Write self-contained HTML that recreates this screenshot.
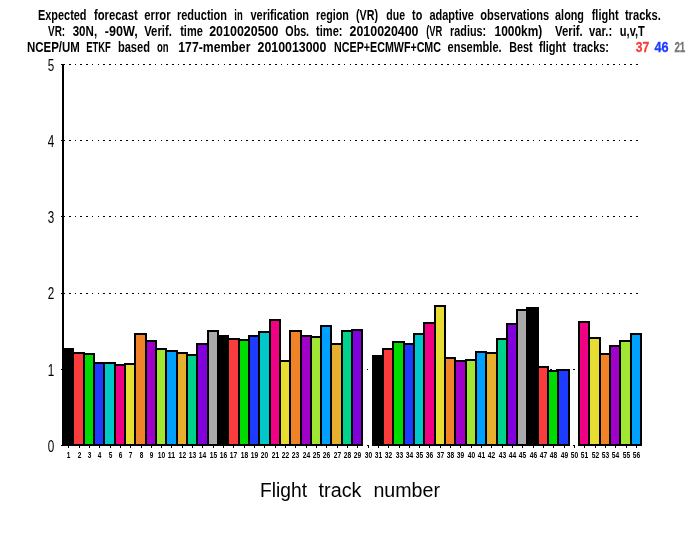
<!DOCTYPE html>
<html lang="en"><head><meta charset="utf-8"><title>Flight track bar chart</title>
<style>html,body{margin:0;padding:0;background:#fff}body{width:700px;height:540px;overflow:hidden}svg{display:block;will-change:transform}text{font-family:"Liberation Sans",sans-serif;fill:#000}.t{font-size:15px;font-weight:bold}.yl{font-size:16.5px}.xl{font-size:8.5px;font-weight:bold}.ax{font-size:19.5px}</style></head><body>
<svg width="700" height="540" viewBox="0 0 700 540">
<rect width="700" height="540" fill="#fff"/>
<g fill="#000" shape-rendering="crispEdges">
<rect x="69" y="64" width="2" height="1"/>
<rect x="75" y="64" width="1" height="1"/>
<rect x="80" y="64" width="2" height="1"/>
<rect x="86" y="64" width="2" height="1"/>
<rect x="92" y="64" width="1" height="1"/>
<rect x="98" y="64" width="1" height="1"/>
<rect x="103" y="64" width="2" height="1"/>
<rect x="109" y="64" width="2" height="1"/>
<rect x="115" y="64" width="1" height="1"/>
<rect x="120" y="64" width="2" height="1"/>
<rect x="126" y="64" width="2" height="1"/>
<rect x="132" y="64" width="2" height="1"/>
<rect x="138" y="64" width="1" height="1"/>
<rect x="143" y="64" width="2" height="1"/>
<rect x="149" y="64" width="2" height="1"/>
<rect x="155" y="64" width="1" height="1"/>
<rect x="161" y="64" width="1" height="1"/>
<rect x="166" y="64" width="2" height="1"/>
<rect x="172" y="64" width="2" height="1"/>
<rect x="178" y="64" width="1" height="1"/>
<rect x="183" y="64" width="2" height="1"/>
<rect x="189" y="64" width="2" height="1"/>
<rect x="195" y="64" width="2" height="1"/>
<rect x="201" y="64" width="1" height="1"/>
<rect x="206" y="64" width="2" height="1"/>
<rect x="212" y="64" width="2" height="1"/>
<rect x="218" y="64" width="1" height="1"/>
<rect x="224" y="64" width="1" height="1"/>
<rect x="229" y="64" width="2" height="1"/>
<rect x="235" y="64" width="2" height="1"/>
<rect x="241" y="64" width="1" height="1"/>
<rect x="246" y="64" width="2" height="1"/>
<rect x="252" y="64" width="2" height="1"/>
<rect x="258" y="64" width="2" height="1"/>
<rect x="264" y="64" width="1" height="1"/>
<rect x="269" y="64" width="2" height="1"/>
<rect x="275" y="64" width="2" height="1"/>
<rect x="281" y="64" width="1" height="1"/>
<rect x="287" y="64" width="1" height="1"/>
<rect x="292" y="64" width="2" height="1"/>
<rect x="298" y="64" width="2" height="1"/>
<rect x="304" y="64" width="1" height="1"/>
<rect x="309" y="64" width="2" height="1"/>
<rect x="315" y="64" width="2" height="1"/>
<rect x="321" y="64" width="2" height="1"/>
<rect x="327" y="64" width="1" height="1"/>
<rect x="332" y="64" width="2" height="1"/>
<rect x="338" y="64" width="2" height="1"/>
<rect x="344" y="64" width="1" height="1"/>
<rect x="350" y="64" width="1" height="1"/>
<rect x="355" y="64" width="2" height="1"/>
<rect x="361" y="64" width="2" height="1"/>
<rect x="367" y="64" width="1" height="1"/>
<rect x="372" y="64" width="2" height="1"/>
<rect x="378" y="64" width="2" height="1"/>
<rect x="384" y="64" width="2" height="1"/>
<rect x="390" y="64" width="1" height="1"/>
<rect x="395" y="64" width="2" height="1"/>
<rect x="401" y="64" width="2" height="1"/>
<rect x="407" y="64" width="1" height="1"/>
<rect x="413" y="64" width="1" height="1"/>
<rect x="418" y="64" width="2" height="1"/>
<rect x="424" y="64" width="2" height="1"/>
<rect x="430" y="64" width="1" height="1"/>
<rect x="435" y="64" width="2" height="1"/>
<rect x="441" y="64" width="2" height="1"/>
<rect x="447" y="64" width="2" height="1"/>
<rect x="453" y="64" width="1" height="1"/>
<rect x="458" y="64" width="2" height="1"/>
<rect x="464" y="64" width="2" height="1"/>
<rect x="470" y="64" width="1" height="1"/>
<rect x="476" y="64" width="1" height="1"/>
<rect x="481" y="64" width="2" height="1"/>
<rect x="487" y="64" width="2" height="1"/>
<rect x="493" y="64" width="1" height="1"/>
<rect x="498" y="64" width="2" height="1"/>
<rect x="504" y="64" width="2" height="1"/>
<rect x="510" y="64" width="2" height="1"/>
<rect x="516" y="64" width="1" height="1"/>
<rect x="521" y="64" width="2" height="1"/>
<rect x="527" y="64" width="2" height="1"/>
<rect x="533" y="64" width="1" height="1"/>
<rect x="539" y="64" width="1" height="1"/>
<rect x="544" y="64" width="2" height="1"/>
<rect x="550" y="64" width="2" height="1"/>
<rect x="556" y="64" width="1" height="1"/>
<rect x="561" y="64" width="2" height="1"/>
<rect x="567" y="64" width="2" height="1"/>
<rect x="573" y="64" width="2" height="1"/>
<rect x="579" y="64" width="1" height="1"/>
<rect x="584" y="64" width="2" height="1"/>
<rect x="590" y="64" width="2" height="1"/>
<rect x="596" y="64" width="1" height="1"/>
<rect x="602" y="64" width="1" height="1"/>
<rect x="607" y="64" width="2" height="1"/>
<rect x="613" y="64" width="2" height="1"/>
<rect x="619" y="64" width="1" height="1"/>
<rect x="624" y="64" width="2" height="1"/>
<rect x="630" y="64" width="2" height="1"/>
<rect x="636" y="64" width="2" height="1"/>
<rect x="69" y="140" width="2" height="1"/>
<rect x="75" y="140" width="1" height="1"/>
<rect x="80" y="140" width="2" height="1"/>
<rect x="86" y="140" width="2" height="1"/>
<rect x="92" y="140" width="1" height="1"/>
<rect x="98" y="140" width="1" height="1"/>
<rect x="103" y="140" width="2" height="1"/>
<rect x="109" y="140" width="2" height="1"/>
<rect x="115" y="140" width="1" height="1"/>
<rect x="120" y="140" width="2" height="1"/>
<rect x="126" y="140" width="2" height="1"/>
<rect x="132" y="140" width="2" height="1"/>
<rect x="138" y="140" width="1" height="1"/>
<rect x="143" y="140" width="2" height="1"/>
<rect x="149" y="140" width="2" height="1"/>
<rect x="155" y="140" width="1" height="1"/>
<rect x="161" y="140" width="1" height="1"/>
<rect x="166" y="140" width="2" height="1"/>
<rect x="172" y="140" width="2" height="1"/>
<rect x="178" y="140" width="1" height="1"/>
<rect x="183" y="140" width="2" height="1"/>
<rect x="189" y="140" width="2" height="1"/>
<rect x="195" y="140" width="2" height="1"/>
<rect x="201" y="140" width="1" height="1"/>
<rect x="206" y="140" width="2" height="1"/>
<rect x="212" y="140" width="2" height="1"/>
<rect x="218" y="140" width="1" height="1"/>
<rect x="224" y="140" width="1" height="1"/>
<rect x="229" y="140" width="2" height="1"/>
<rect x="235" y="140" width="2" height="1"/>
<rect x="241" y="140" width="1" height="1"/>
<rect x="246" y="140" width="2" height="1"/>
<rect x="252" y="140" width="2" height="1"/>
<rect x="258" y="140" width="2" height="1"/>
<rect x="264" y="140" width="1" height="1"/>
<rect x="269" y="140" width="2" height="1"/>
<rect x="275" y="140" width="2" height="1"/>
<rect x="281" y="140" width="1" height="1"/>
<rect x="287" y="140" width="1" height="1"/>
<rect x="292" y="140" width="2" height="1"/>
<rect x="298" y="140" width="2" height="1"/>
<rect x="304" y="140" width="1" height="1"/>
<rect x="309" y="140" width="2" height="1"/>
<rect x="315" y="140" width="2" height="1"/>
<rect x="321" y="140" width="2" height="1"/>
<rect x="327" y="140" width="1" height="1"/>
<rect x="332" y="140" width="2" height="1"/>
<rect x="338" y="140" width="2" height="1"/>
<rect x="344" y="140" width="1" height="1"/>
<rect x="350" y="140" width="1" height="1"/>
<rect x="355" y="140" width="2" height="1"/>
<rect x="361" y="140" width="2" height="1"/>
<rect x="367" y="140" width="1" height="1"/>
<rect x="372" y="140" width="2" height="1"/>
<rect x="378" y="140" width="2" height="1"/>
<rect x="384" y="140" width="2" height="1"/>
<rect x="390" y="140" width="1" height="1"/>
<rect x="395" y="140" width="2" height="1"/>
<rect x="401" y="140" width="2" height="1"/>
<rect x="407" y="140" width="1" height="1"/>
<rect x="413" y="140" width="1" height="1"/>
<rect x="418" y="140" width="2" height="1"/>
<rect x="424" y="140" width="2" height="1"/>
<rect x="430" y="140" width="1" height="1"/>
<rect x="435" y="140" width="2" height="1"/>
<rect x="441" y="140" width="2" height="1"/>
<rect x="447" y="140" width="2" height="1"/>
<rect x="453" y="140" width="1" height="1"/>
<rect x="458" y="140" width="2" height="1"/>
<rect x="464" y="140" width="2" height="1"/>
<rect x="470" y="140" width="1" height="1"/>
<rect x="476" y="140" width="1" height="1"/>
<rect x="481" y="140" width="2" height="1"/>
<rect x="487" y="140" width="2" height="1"/>
<rect x="493" y="140" width="1" height="1"/>
<rect x="498" y="140" width="2" height="1"/>
<rect x="504" y="140" width="2" height="1"/>
<rect x="510" y="140" width="2" height="1"/>
<rect x="516" y="140" width="1" height="1"/>
<rect x="521" y="140" width="2" height="1"/>
<rect x="527" y="140" width="2" height="1"/>
<rect x="533" y="140" width="1" height="1"/>
<rect x="539" y="140" width="1" height="1"/>
<rect x="544" y="140" width="2" height="1"/>
<rect x="550" y="140" width="2" height="1"/>
<rect x="556" y="140" width="1" height="1"/>
<rect x="561" y="140" width="2" height="1"/>
<rect x="567" y="140" width="2" height="1"/>
<rect x="573" y="140" width="2" height="1"/>
<rect x="579" y="140" width="1" height="1"/>
<rect x="584" y="140" width="2" height="1"/>
<rect x="590" y="140" width="2" height="1"/>
<rect x="596" y="140" width="1" height="1"/>
<rect x="602" y="140" width="1" height="1"/>
<rect x="607" y="140" width="2" height="1"/>
<rect x="613" y="140" width="2" height="1"/>
<rect x="619" y="140" width="1" height="1"/>
<rect x="624" y="140" width="2" height="1"/>
<rect x="630" y="140" width="2" height="1"/>
<rect x="636" y="140" width="2" height="1"/>
<rect x="69" y="216" width="2" height="1"/>
<rect x="75" y="216" width="1" height="1"/>
<rect x="80" y="216" width="2" height="1"/>
<rect x="86" y="216" width="2" height="1"/>
<rect x="92" y="216" width="1" height="1"/>
<rect x="98" y="216" width="1" height="1"/>
<rect x="103" y="216" width="2" height="1"/>
<rect x="109" y="216" width="2" height="1"/>
<rect x="115" y="216" width="1" height="1"/>
<rect x="120" y="216" width="2" height="1"/>
<rect x="126" y="216" width="2" height="1"/>
<rect x="132" y="216" width="2" height="1"/>
<rect x="138" y="216" width="1" height="1"/>
<rect x="143" y="216" width="2" height="1"/>
<rect x="149" y="216" width="2" height="1"/>
<rect x="155" y="216" width="1" height="1"/>
<rect x="161" y="216" width="1" height="1"/>
<rect x="166" y="216" width="2" height="1"/>
<rect x="172" y="216" width="2" height="1"/>
<rect x="178" y="216" width="1" height="1"/>
<rect x="183" y="216" width="2" height="1"/>
<rect x="189" y="216" width="2" height="1"/>
<rect x="195" y="216" width="2" height="1"/>
<rect x="201" y="216" width="1" height="1"/>
<rect x="206" y="216" width="2" height="1"/>
<rect x="212" y="216" width="2" height="1"/>
<rect x="218" y="216" width="1" height="1"/>
<rect x="224" y="216" width="1" height="1"/>
<rect x="229" y="216" width="2" height="1"/>
<rect x="235" y="216" width="2" height="1"/>
<rect x="241" y="216" width="1" height="1"/>
<rect x="246" y="216" width="2" height="1"/>
<rect x="252" y="216" width="2" height="1"/>
<rect x="258" y="216" width="2" height="1"/>
<rect x="264" y="216" width="1" height="1"/>
<rect x="269" y="216" width="2" height="1"/>
<rect x="275" y="216" width="2" height="1"/>
<rect x="281" y="216" width="1" height="1"/>
<rect x="287" y="216" width="1" height="1"/>
<rect x="292" y="216" width="2" height="1"/>
<rect x="298" y="216" width="2" height="1"/>
<rect x="304" y="216" width="1" height="1"/>
<rect x="309" y="216" width="2" height="1"/>
<rect x="315" y="216" width="2" height="1"/>
<rect x="321" y="216" width="2" height="1"/>
<rect x="327" y="216" width="1" height="1"/>
<rect x="332" y="216" width="2" height="1"/>
<rect x="338" y="216" width="2" height="1"/>
<rect x="344" y="216" width="1" height="1"/>
<rect x="350" y="216" width="1" height="1"/>
<rect x="355" y="216" width="2" height="1"/>
<rect x="361" y="216" width="2" height="1"/>
<rect x="367" y="216" width="1" height="1"/>
<rect x="372" y="216" width="2" height="1"/>
<rect x="378" y="216" width="2" height="1"/>
<rect x="384" y="216" width="2" height="1"/>
<rect x="390" y="216" width="1" height="1"/>
<rect x="395" y="216" width="2" height="1"/>
<rect x="401" y="216" width="2" height="1"/>
<rect x="407" y="216" width="1" height="1"/>
<rect x="413" y="216" width="1" height="1"/>
<rect x="418" y="216" width="2" height="1"/>
<rect x="424" y="216" width="2" height="1"/>
<rect x="430" y="216" width="1" height="1"/>
<rect x="435" y="216" width="2" height="1"/>
<rect x="441" y="216" width="2" height="1"/>
<rect x="447" y="216" width="2" height="1"/>
<rect x="453" y="216" width="1" height="1"/>
<rect x="458" y="216" width="2" height="1"/>
<rect x="464" y="216" width="2" height="1"/>
<rect x="470" y="216" width="1" height="1"/>
<rect x="476" y="216" width="1" height="1"/>
<rect x="481" y="216" width="2" height="1"/>
<rect x="487" y="216" width="2" height="1"/>
<rect x="493" y="216" width="1" height="1"/>
<rect x="498" y="216" width="2" height="1"/>
<rect x="504" y="216" width="2" height="1"/>
<rect x="510" y="216" width="2" height="1"/>
<rect x="516" y="216" width="1" height="1"/>
<rect x="521" y="216" width="2" height="1"/>
<rect x="527" y="216" width="2" height="1"/>
<rect x="533" y="216" width="1" height="1"/>
<rect x="539" y="216" width="1" height="1"/>
<rect x="544" y="216" width="2" height="1"/>
<rect x="550" y="216" width="2" height="1"/>
<rect x="556" y="216" width="1" height="1"/>
<rect x="561" y="216" width="2" height="1"/>
<rect x="567" y="216" width="2" height="1"/>
<rect x="573" y="216" width="2" height="1"/>
<rect x="579" y="216" width="1" height="1"/>
<rect x="584" y="216" width="2" height="1"/>
<rect x="590" y="216" width="2" height="1"/>
<rect x="596" y="216" width="1" height="1"/>
<rect x="602" y="216" width="1" height="1"/>
<rect x="607" y="216" width="2" height="1"/>
<rect x="613" y="216" width="2" height="1"/>
<rect x="619" y="216" width="1" height="1"/>
<rect x="624" y="216" width="2" height="1"/>
<rect x="630" y="216" width="2" height="1"/>
<rect x="636" y="216" width="2" height="1"/>
<rect x="69" y="293" width="2" height="1"/>
<rect x="75" y="293" width="1" height="1"/>
<rect x="80" y="293" width="2" height="1"/>
<rect x="86" y="293" width="2" height="1"/>
<rect x="92" y="293" width="1" height="1"/>
<rect x="98" y="293" width="1" height="1"/>
<rect x="103" y="293" width="2" height="1"/>
<rect x="109" y="293" width="2" height="1"/>
<rect x="115" y="293" width="1" height="1"/>
<rect x="120" y="293" width="2" height="1"/>
<rect x="126" y="293" width="2" height="1"/>
<rect x="132" y="293" width="2" height="1"/>
<rect x="138" y="293" width="1" height="1"/>
<rect x="143" y="293" width="2" height="1"/>
<rect x="149" y="293" width="2" height="1"/>
<rect x="155" y="293" width="1" height="1"/>
<rect x="161" y="293" width="1" height="1"/>
<rect x="166" y="293" width="2" height="1"/>
<rect x="172" y="293" width="2" height="1"/>
<rect x="178" y="293" width="1" height="1"/>
<rect x="183" y="293" width="2" height="1"/>
<rect x="189" y="293" width="2" height="1"/>
<rect x="195" y="293" width="2" height="1"/>
<rect x="201" y="293" width="1" height="1"/>
<rect x="206" y="293" width="2" height="1"/>
<rect x="212" y="293" width="2" height="1"/>
<rect x="218" y="293" width="1" height="1"/>
<rect x="224" y="293" width="1" height="1"/>
<rect x="229" y="293" width="2" height="1"/>
<rect x="235" y="293" width="2" height="1"/>
<rect x="241" y="293" width="1" height="1"/>
<rect x="246" y="293" width="2" height="1"/>
<rect x="252" y="293" width="2" height="1"/>
<rect x="258" y="293" width="2" height="1"/>
<rect x="264" y="293" width="1" height="1"/>
<rect x="269" y="293" width="2" height="1"/>
<rect x="275" y="293" width="2" height="1"/>
<rect x="281" y="293" width="1" height="1"/>
<rect x="287" y="293" width="1" height="1"/>
<rect x="292" y="293" width="2" height="1"/>
<rect x="298" y="293" width="2" height="1"/>
<rect x="304" y="293" width="1" height="1"/>
<rect x="309" y="293" width="2" height="1"/>
<rect x="315" y="293" width="2" height="1"/>
<rect x="321" y="293" width="2" height="1"/>
<rect x="327" y="293" width="1" height="1"/>
<rect x="332" y="293" width="2" height="1"/>
<rect x="338" y="293" width="2" height="1"/>
<rect x="344" y="293" width="1" height="1"/>
<rect x="350" y="293" width="1" height="1"/>
<rect x="355" y="293" width="2" height="1"/>
<rect x="361" y="293" width="2" height="1"/>
<rect x="367" y="293" width="1" height="1"/>
<rect x="372" y="293" width="2" height="1"/>
<rect x="378" y="293" width="2" height="1"/>
<rect x="384" y="293" width="2" height="1"/>
<rect x="390" y="293" width="1" height="1"/>
<rect x="395" y="293" width="2" height="1"/>
<rect x="401" y="293" width="2" height="1"/>
<rect x="407" y="293" width="1" height="1"/>
<rect x="413" y="293" width="1" height="1"/>
<rect x="418" y="293" width="2" height="1"/>
<rect x="424" y="293" width="2" height="1"/>
<rect x="430" y="293" width="1" height="1"/>
<rect x="435" y="293" width="2" height="1"/>
<rect x="441" y="293" width="2" height="1"/>
<rect x="447" y="293" width="2" height="1"/>
<rect x="453" y="293" width="1" height="1"/>
<rect x="458" y="293" width="2" height="1"/>
<rect x="464" y="293" width="2" height="1"/>
<rect x="470" y="293" width="1" height="1"/>
<rect x="476" y="293" width="1" height="1"/>
<rect x="481" y="293" width="2" height="1"/>
<rect x="487" y="293" width="2" height="1"/>
<rect x="493" y="293" width="1" height="1"/>
<rect x="498" y="293" width="2" height="1"/>
<rect x="504" y="293" width="2" height="1"/>
<rect x="510" y="293" width="2" height="1"/>
<rect x="516" y="293" width="1" height="1"/>
<rect x="521" y="293" width="2" height="1"/>
<rect x="527" y="293" width="2" height="1"/>
<rect x="533" y="293" width="1" height="1"/>
<rect x="539" y="293" width="1" height="1"/>
<rect x="544" y="293" width="2" height="1"/>
<rect x="550" y="293" width="2" height="1"/>
<rect x="556" y="293" width="1" height="1"/>
<rect x="561" y="293" width="2" height="1"/>
<rect x="567" y="293" width="2" height="1"/>
<rect x="573" y="293" width="2" height="1"/>
<rect x="579" y="293" width="1" height="1"/>
<rect x="584" y="293" width="2" height="1"/>
<rect x="590" y="293" width="2" height="1"/>
<rect x="596" y="293" width="1" height="1"/>
<rect x="602" y="293" width="1" height="1"/>
<rect x="607" y="293" width="2" height="1"/>
<rect x="613" y="293" width="2" height="1"/>
<rect x="619" y="293" width="1" height="1"/>
<rect x="624" y="293" width="2" height="1"/>
<rect x="630" y="293" width="2" height="1"/>
<rect x="636" y="293" width="2" height="1"/>
<rect x="69" y="369" width="2" height="1"/>
<rect x="75" y="369" width="1" height="1"/>
<rect x="80" y="369" width="2" height="1"/>
<rect x="86" y="369" width="2" height="1"/>
<rect x="92" y="369" width="1" height="1"/>
<rect x="98" y="369" width="1" height="1"/>
<rect x="103" y="369" width="2" height="1"/>
<rect x="109" y="369" width="2" height="1"/>
<rect x="115" y="369" width="1" height="1"/>
<rect x="120" y="369" width="2" height="1"/>
<rect x="126" y="369" width="2" height="1"/>
<rect x="132" y="369" width="2" height="1"/>
<rect x="138" y="369" width="1" height="1"/>
<rect x="143" y="369" width="2" height="1"/>
<rect x="149" y="369" width="2" height="1"/>
<rect x="155" y="369" width="1" height="1"/>
<rect x="161" y="369" width="1" height="1"/>
<rect x="166" y="369" width="2" height="1"/>
<rect x="172" y="369" width="2" height="1"/>
<rect x="178" y="369" width="1" height="1"/>
<rect x="183" y="369" width="2" height="1"/>
<rect x="189" y="369" width="2" height="1"/>
<rect x="195" y="369" width="2" height="1"/>
<rect x="201" y="369" width="1" height="1"/>
<rect x="206" y="369" width="2" height="1"/>
<rect x="212" y="369" width="2" height="1"/>
<rect x="218" y="369" width="1" height="1"/>
<rect x="224" y="369" width="1" height="1"/>
<rect x="229" y="369" width="2" height="1"/>
<rect x="235" y="369" width="2" height="1"/>
<rect x="241" y="369" width="1" height="1"/>
<rect x="246" y="369" width="2" height="1"/>
<rect x="252" y="369" width="2" height="1"/>
<rect x="258" y="369" width="2" height="1"/>
<rect x="264" y="369" width="1" height="1"/>
<rect x="269" y="369" width="2" height="1"/>
<rect x="275" y="369" width="2" height="1"/>
<rect x="281" y="369" width="1" height="1"/>
<rect x="287" y="369" width="1" height="1"/>
<rect x="292" y="369" width="2" height="1"/>
<rect x="298" y="369" width="2" height="1"/>
<rect x="304" y="369" width="1" height="1"/>
<rect x="309" y="369" width="2" height="1"/>
<rect x="315" y="369" width="2" height="1"/>
<rect x="321" y="369" width="2" height="1"/>
<rect x="327" y="369" width="1" height="1"/>
<rect x="332" y="369" width="2" height="1"/>
<rect x="338" y="369" width="2" height="1"/>
<rect x="344" y="369" width="1" height="1"/>
<rect x="350" y="369" width="1" height="1"/>
<rect x="355" y="369" width="2" height="1"/>
<rect x="361" y="369" width="2" height="1"/>
<rect x="367" y="369" width="1" height="1"/>
<rect x="372" y="369" width="2" height="1"/>
<rect x="378" y="369" width="2" height="1"/>
<rect x="384" y="369" width="2" height="1"/>
<rect x="390" y="369" width="1" height="1"/>
<rect x="395" y="369" width="2" height="1"/>
<rect x="401" y="369" width="2" height="1"/>
<rect x="407" y="369" width="1" height="1"/>
<rect x="413" y="369" width="1" height="1"/>
<rect x="418" y="369" width="2" height="1"/>
<rect x="424" y="369" width="2" height="1"/>
<rect x="430" y="369" width="1" height="1"/>
<rect x="435" y="369" width="2" height="1"/>
<rect x="441" y="369" width="2" height="1"/>
<rect x="447" y="369" width="2" height="1"/>
<rect x="453" y="369" width="1" height="1"/>
<rect x="458" y="369" width="2" height="1"/>
<rect x="464" y="369" width="2" height="1"/>
<rect x="470" y="369" width="1" height="1"/>
<rect x="476" y="369" width="1" height="1"/>
<rect x="481" y="369" width="2" height="1"/>
<rect x="487" y="369" width="2" height="1"/>
<rect x="493" y="369" width="1" height="1"/>
<rect x="498" y="369" width="2" height="1"/>
<rect x="504" y="369" width="2" height="1"/>
<rect x="510" y="369" width="2" height="1"/>
<rect x="516" y="369" width="1" height="1"/>
<rect x="521" y="369" width="2" height="1"/>
<rect x="527" y="369" width="2" height="1"/>
<rect x="533" y="369" width="1" height="1"/>
<rect x="539" y="369" width="1" height="1"/>
<rect x="544" y="369" width="2" height="1"/>
<rect x="550" y="369" width="2" height="1"/>
<rect x="556" y="369" width="1" height="1"/>
<rect x="561" y="369" width="2" height="1"/>
<rect x="567" y="369" width="2" height="1"/>
<rect x="573" y="369" width="2" height="1"/>
<rect x="579" y="369" width="1" height="1"/>
<rect x="584" y="369" width="2" height="1"/>
<rect x="590" y="369" width="2" height="1"/>
<rect x="596" y="369" width="1" height="1"/>
<rect x="602" y="369" width="1" height="1"/>
<rect x="607" y="369" width="2" height="1"/>
<rect x="613" y="369" width="2" height="1"/>
<rect x="619" y="369" width="1" height="1"/>
<rect x="624" y="369" width="2" height="1"/>
<rect x="630" y="369" width="2" height="1"/>
<rect x="636" y="369" width="2" height="1"/>
</g>
<g shape-rendering="crispEdges">
<rect x="62" y="348" width="12" height="98" fill="#000"/>
<rect x="64" y="350" width="8" height="94" fill="#000000"/>
<rect x="72" y="352" width="13" height="94" fill="#000"/>
<rect x="74" y="354" width="9" height="90" fill="#fa3c3c"/>
<rect x="83" y="353" width="12" height="93" fill="#000"/>
<rect x="85" y="355" width="8" height="89" fill="#00dc00"/>
<rect x="93" y="362" width="12" height="84" fill="#000"/>
<rect x="95" y="364" width="8" height="80" fill="#1e3cff"/>
<rect x="103" y="362" width="13" height="84" fill="#000"/>
<rect x="105" y="364" width="9" height="80" fill="#00c8c8"/>
<rect x="114" y="364" width="12" height="82" fill="#000"/>
<rect x="116" y="366" width="8" height="78" fill="#f00082"/>
<rect x="124" y="363" width="12" height="83" fill="#000"/>
<rect x="126" y="365" width="8" height="79" fill="#e6dc32"/>
<rect x="134" y="333" width="13" height="113" fill="#000"/>
<rect x="136" y="335" width="9" height="109" fill="#f08228"/>
<rect x="145" y="340" width="12" height="106" fill="#000"/>
<rect x="147" y="342" width="8" height="102" fill="#a000c8"/>
<rect x="155" y="348" width="12" height="98" fill="#000"/>
<rect x="157" y="350" width="8" height="94" fill="#a0e632"/>
<rect x="165" y="350" width="13" height="96" fill="#000"/>
<rect x="167" y="352" width="9" height="92" fill="#00a0ff"/>
<rect x="176" y="352" width="12" height="94" fill="#000"/>
<rect x="178" y="354" width="8" height="90" fill="#e6af2d"/>
<rect x="186" y="354" width="12" height="92" fill="#000"/>
<rect x="188" y="356" width="8" height="88" fill="#00d28c"/>
<rect x="196" y="343" width="13" height="103" fill="#000"/>
<rect x="198" y="345" width="9" height="99" fill="#8200dc"/>
<rect x="207" y="330" width="12" height="116" fill="#000"/>
<rect x="209" y="332" width="8" height="112" fill="#aaaaaa"/>
<rect x="217" y="335" width="12" height="111" fill="#000"/>
<rect x="219" y="337" width="8" height="107" fill="#000000"/>
<rect x="227" y="338" width="13" height="108" fill="#000"/>
<rect x="229" y="340" width="9" height="104" fill="#fa3c3c"/>
<rect x="238" y="339" width="12" height="107" fill="#000"/>
<rect x="240" y="341" width="8" height="103" fill="#00dc00"/>
<rect x="248" y="335" width="12" height="111" fill="#000"/>
<rect x="250" y="337" width="8" height="107" fill="#1e3cff"/>
<rect x="258" y="331" width="13" height="115" fill="#000"/>
<rect x="260" y="333" width="9" height="111" fill="#00c8c8"/>
<rect x="269" y="319" width="12" height="127" fill="#000"/>
<rect x="271" y="321" width="8" height="123" fill="#f00082"/>
<rect x="279" y="360" width="12" height="86" fill="#000"/>
<rect x="281" y="362" width="8" height="82" fill="#e6dc32"/>
<rect x="289" y="330" width="13" height="116" fill="#000"/>
<rect x="291" y="332" width="9" height="112" fill="#f08228"/>
<rect x="300" y="335" width="12" height="111" fill="#000"/>
<rect x="302" y="337" width="8" height="107" fill="#a000c8"/>
<rect x="310" y="336" width="12" height="110" fill="#000"/>
<rect x="312" y="338" width="8" height="106" fill="#a0e632"/>
<rect x="320" y="325" width="12" height="121" fill="#000"/>
<rect x="322" y="327" width="8" height="117" fill="#00a0ff"/>
<rect x="330" y="343" width="13" height="103" fill="#000"/>
<rect x="332" y="345" width="9" height="99" fill="#e6af2d"/>
<rect x="341" y="330" width="12" height="116" fill="#000"/>
<rect x="343" y="332" width="8" height="112" fill="#00d28c"/>
<rect x="351" y="329" width="12" height="117" fill="#000"/>
<rect x="353" y="331" width="8" height="113" fill="#8200dc"/>
<rect x="372" y="355" width="12" height="91" fill="#000"/>
<rect x="374" y="357" width="8" height="87" fill="#000000"/>
<rect x="382" y="348" width="12" height="98" fill="#000"/>
<rect x="384" y="350" width="8" height="94" fill="#fa3c3c"/>
<rect x="392" y="341" width="13" height="105" fill="#000"/>
<rect x="394" y="343" width="9" height="101" fill="#00dc00"/>
<rect x="403" y="343" width="12" height="103" fill="#000"/>
<rect x="405" y="345" width="8" height="99" fill="#1e3cff"/>
<rect x="413" y="333" width="12" height="113" fill="#000"/>
<rect x="415" y="335" width="8" height="109" fill="#00c8c8"/>
<rect x="423" y="322" width="13" height="124" fill="#000"/>
<rect x="425" y="324" width="9" height="120" fill="#f00082"/>
<rect x="434" y="305" width="12" height="141" fill="#000"/>
<rect x="436" y="307" width="8" height="137" fill="#e6dc32"/>
<rect x="444" y="357" width="12" height="89" fill="#000"/>
<rect x="446" y="359" width="8" height="85" fill="#f08228"/>
<rect x="454" y="360" width="13" height="86" fill="#000"/>
<rect x="456" y="362" width="9" height="82" fill="#a000c8"/>
<rect x="465" y="359" width="12" height="87" fill="#000"/>
<rect x="467" y="361" width="8" height="83" fill="#a0e632"/>
<rect x="475" y="351" width="12" height="95" fill="#000"/>
<rect x="477" y="353" width="8" height="91" fill="#00a0ff"/>
<rect x="485" y="352" width="13" height="94" fill="#000"/>
<rect x="487" y="354" width="9" height="90" fill="#e6af2d"/>
<rect x="496" y="338" width="12" height="108" fill="#000"/>
<rect x="498" y="340" width="8" height="104" fill="#00d28c"/>
<rect x="506" y="323" width="12" height="123" fill="#000"/>
<rect x="508" y="325" width="8" height="119" fill="#8200dc"/>
<rect x="516" y="309" width="12" height="137" fill="#000"/>
<rect x="518" y="311" width="8" height="133" fill="#aaaaaa"/>
<rect x="526" y="307" width="13" height="139" fill="#000"/>
<rect x="528" y="309" width="9" height="135" fill="#000000"/>
<rect x="537" y="366" width="12" height="80" fill="#000"/>
<rect x="539" y="368" width="8" height="76" fill="#fa3c3c"/>
<rect x="547" y="370" width="12" height="76" fill="#000"/>
<rect x="549" y="372" width="8" height="72" fill="#00dc00"/>
<rect x="557" y="369" width="13" height="77" fill="#000"/>
<rect x="559" y="371" width="9" height="73" fill="#1e3cff"/>
<rect x="578" y="321" width="12" height="125" fill="#000"/>
<rect x="580" y="323" width="8" height="121" fill="#f00082"/>
<rect x="588" y="337" width="13" height="109" fill="#000"/>
<rect x="590" y="339" width="9" height="105" fill="#e6dc32"/>
<rect x="599" y="353" width="12" height="93" fill="#000"/>
<rect x="601" y="355" width="8" height="89" fill="#f08228"/>
<rect x="609" y="345" width="12" height="101" fill="#000"/>
<rect x="611" y="347" width="8" height="97" fill="#a000c8"/>
<rect x="619" y="340" width="13" height="106" fill="#000"/>
<rect x="621" y="342" width="9" height="102" fill="#a0e632"/>
<rect x="630" y="333" width="12" height="113" fill="#000"/>
<rect x="632" y="335" width="8" height="109" fill="#00a0ff"/>
<rect x="62" y="64" width="2" height="382" fill="#000"/>
<rect x="61" y="64" width="4" height="1" fill="#000"/>
<rect x="61" y="140" width="4" height="1" fill="#000"/>
<rect x="61" y="216" width="4" height="1" fill="#000"/>
<rect x="61" y="293" width="4" height="1" fill="#000"/>
<rect x="61" y="369" width="4" height="1" fill="#000"/>
<rect x="61" y="445" width="4" height="1" fill="#000"/>
<rect x="68" y="445" width="1" height="3" fill="#000"/>
<rect x="79" y="445" width="1" height="3" fill="#000"/>
<rect x="89" y="445" width="1" height="3" fill="#000"/>
<rect x="99" y="445" width="1" height="3" fill="#000"/>
<rect x="110" y="445" width="1" height="3" fill="#000"/>
<rect x="120" y="445" width="1" height="3" fill="#000"/>
<rect x="130" y="445" width="1" height="3" fill="#000"/>
<rect x="141" y="445" width="1" height="3" fill="#000"/>
<rect x="151" y="445" width="1" height="3" fill="#000"/>
<rect x="161" y="445" width="1" height="3" fill="#000"/>
<rect x="171" y="445" width="1" height="3" fill="#000"/>
<rect x="182" y="445" width="1" height="3" fill="#000"/>
<rect x="192" y="445" width="1" height="3" fill="#000"/>
<rect x="202" y="445" width="1" height="3" fill="#000"/>
<rect x="213" y="445" width="1" height="3" fill="#000"/>
<rect x="223" y="445" width="1" height="3" fill="#000"/>
<rect x="233" y="445" width="1" height="3" fill="#000"/>
<rect x="244" y="445" width="1" height="3" fill="#000"/>
<rect x="254" y="445" width="1" height="3" fill="#000"/>
<rect x="264" y="445" width="1" height="3" fill="#000"/>
<rect x="275" y="445" width="1" height="3" fill="#000"/>
<rect x="285" y="445" width="1" height="3" fill="#000"/>
<rect x="295" y="445" width="1" height="3" fill="#000"/>
<rect x="306" y="445" width="1" height="3" fill="#000"/>
<rect x="316" y="445" width="1" height="3" fill="#000"/>
<rect x="326" y="445" width="1" height="3" fill="#000"/>
<rect x="337" y="445" width="1" height="3" fill="#000"/>
<rect x="347" y="445" width="1" height="3" fill="#000"/>
<rect x="357" y="445" width="1" height="3" fill="#000"/>
<rect x="368" y="445" width="1" height="3" fill="#000"/>
<rect x="367" y="445" width="1" height="1" fill="#000"/>
<rect x="378" y="445" width="1" height="3" fill="#000"/>
<rect x="388" y="445" width="1" height="3" fill="#000"/>
<rect x="399" y="445" width="1" height="3" fill="#000"/>
<rect x="409" y="445" width="1" height="3" fill="#000"/>
<rect x="419" y="445" width="1" height="3" fill="#000"/>
<rect x="429" y="445" width="1" height="3" fill="#000"/>
<rect x="440" y="445" width="1" height="3" fill="#000"/>
<rect x="450" y="445" width="1" height="3" fill="#000"/>
<rect x="460" y="445" width="1" height="3" fill="#000"/>
<rect x="471" y="445" width="1" height="3" fill="#000"/>
<rect x="481" y="445" width="1" height="3" fill="#000"/>
<rect x="491" y="445" width="1" height="3" fill="#000"/>
<rect x="502" y="445" width="1" height="3" fill="#000"/>
<rect x="512" y="445" width="1" height="3" fill="#000"/>
<rect x="522" y="445" width="1" height="3" fill="#000"/>
<rect x="533" y="445" width="1" height="3" fill="#000"/>
<rect x="543" y="445" width="1" height="3" fill="#000"/>
<rect x="553" y="445" width="1" height="3" fill="#000"/>
<rect x="564" y="445" width="1" height="3" fill="#000"/>
<rect x="574" y="445" width="1" height="3" fill="#000"/>
<rect x="573" y="445" width="1" height="1" fill="#000"/>
<rect x="584" y="445" width="1" height="3" fill="#000"/>
<rect x="595" y="445" width="1" height="3" fill="#000"/>
<rect x="605" y="445" width="1" height="3" fill="#000"/>
<rect x="615" y="445" width="1" height="3" fill="#000"/>
<rect x="626" y="445" width="1" height="3" fill="#000"/>
<rect x="636" y="445" width="1" height="3" fill="#000"/>
</g>
<g class="xl" text-anchor="middle">
<text x="68.5" y="458" textLength="3.6" lengthAdjust="spacingAndGlyphs">1</text>
<text x="79.5" y="458" textLength="3.6" lengthAdjust="spacingAndGlyphs">2</text>
<text x="89.5" y="458" textLength="3.6" lengthAdjust="spacingAndGlyphs">3</text>
<text x="99.5" y="458" textLength="3.6" lengthAdjust="spacingAndGlyphs">4</text>
<text x="110.5" y="458" textLength="3.6" lengthAdjust="spacingAndGlyphs">5</text>
<text x="120.5" y="458" textLength="3.6" lengthAdjust="spacingAndGlyphs">6</text>
<text x="130.5" y="458" textLength="3.6" lengthAdjust="spacingAndGlyphs">7</text>
<text x="141.5" y="458" textLength="3.6" lengthAdjust="spacingAndGlyphs">8</text>
<text x="151.5" y="458" textLength="3.6" lengthAdjust="spacingAndGlyphs">9</text>
<text x="161.5" y="458" textLength="7.4" lengthAdjust="spacingAndGlyphs">10</text>
<text x="171.5" y="458" textLength="7.4" lengthAdjust="spacingAndGlyphs">11</text>
<text x="182.5" y="458" textLength="7.4" lengthAdjust="spacingAndGlyphs">12</text>
<text x="192.5" y="458" textLength="7.4" lengthAdjust="spacingAndGlyphs">13</text>
<text x="202.5" y="458" textLength="7.4" lengthAdjust="spacingAndGlyphs">14</text>
<text x="213.5" y="458" textLength="7.4" lengthAdjust="spacingAndGlyphs">15</text>
<text x="223.5" y="458" textLength="7.4" lengthAdjust="spacingAndGlyphs">16</text>
<text x="233.5" y="458" textLength="7.4" lengthAdjust="spacingAndGlyphs">17</text>
<text x="244.5" y="458" textLength="7.4" lengthAdjust="spacingAndGlyphs">18</text>
<text x="254.5" y="458" textLength="7.4" lengthAdjust="spacingAndGlyphs">19</text>
<text x="264.5" y="458" textLength="7.4" lengthAdjust="spacingAndGlyphs">20</text>
<text x="275.5" y="458" textLength="7.4" lengthAdjust="spacingAndGlyphs">21</text>
<text x="285.5" y="458" textLength="7.4" lengthAdjust="spacingAndGlyphs">22</text>
<text x="295.5" y="458" textLength="7.4" lengthAdjust="spacingAndGlyphs">23</text>
<text x="306.5" y="458" textLength="7.4" lengthAdjust="spacingAndGlyphs">24</text>
<text x="316.5" y="458" textLength="7.4" lengthAdjust="spacingAndGlyphs">25</text>
<text x="326.5" y="458" textLength="7.4" lengthAdjust="spacingAndGlyphs">26</text>
<text x="337.5" y="458" textLength="7.4" lengthAdjust="spacingAndGlyphs">27</text>
<text x="347.5" y="458" textLength="7.4" lengthAdjust="spacingAndGlyphs">28</text>
<text x="357.5" y="458" textLength="7.4" lengthAdjust="spacingAndGlyphs">29</text>
<text x="368.5" y="458" textLength="7.4" lengthAdjust="spacingAndGlyphs">30</text>
<text x="378.5" y="458" textLength="7.4" lengthAdjust="spacingAndGlyphs">31</text>
<text x="388.5" y="458" textLength="7.4" lengthAdjust="spacingAndGlyphs">32</text>
<text x="399.5" y="458" textLength="7.4" lengthAdjust="spacingAndGlyphs">33</text>
<text x="409.5" y="458" textLength="7.4" lengthAdjust="spacingAndGlyphs">34</text>
<text x="419.5" y="458" textLength="7.4" lengthAdjust="spacingAndGlyphs">35</text>
<text x="429.5" y="458" textLength="7.4" lengthAdjust="spacingAndGlyphs">36</text>
<text x="440.5" y="458" textLength="7.4" lengthAdjust="spacingAndGlyphs">37</text>
<text x="450.5" y="458" textLength="7.4" lengthAdjust="spacingAndGlyphs">38</text>
<text x="460.5" y="458" textLength="7.4" lengthAdjust="spacingAndGlyphs">39</text>
<text x="471.5" y="458" textLength="7.4" lengthAdjust="spacingAndGlyphs">40</text>
<text x="481.5" y="458" textLength="7.4" lengthAdjust="spacingAndGlyphs">41</text>
<text x="491.5" y="458" textLength="7.4" lengthAdjust="spacingAndGlyphs">42</text>
<text x="502.5" y="458" textLength="7.4" lengthAdjust="spacingAndGlyphs">43</text>
<text x="512.5" y="458" textLength="7.4" lengthAdjust="spacingAndGlyphs">44</text>
<text x="522.5" y="458" textLength="7.4" lengthAdjust="spacingAndGlyphs">45</text>
<text x="533.5" y="458" textLength="7.4" lengthAdjust="spacingAndGlyphs">46</text>
<text x="543.5" y="458" textLength="7.4" lengthAdjust="spacingAndGlyphs">47</text>
<text x="553.5" y="458" textLength="7.4" lengthAdjust="spacingAndGlyphs">48</text>
<text x="564.5" y="458" textLength="7.4" lengthAdjust="spacingAndGlyphs">49</text>
<text x="574.5" y="458" textLength="7.4" lengthAdjust="spacingAndGlyphs">50</text>
<text x="584.5" y="458" textLength="7.4" lengthAdjust="spacingAndGlyphs">51</text>
<text x="595.5" y="458" textLength="7.4" lengthAdjust="spacingAndGlyphs">52</text>
<text x="605.5" y="458" textLength="7.4" lengthAdjust="spacingAndGlyphs">53</text>
<text x="615.5" y="458" textLength="7.4" lengthAdjust="spacingAndGlyphs">54</text>
<text x="626.5" y="458" textLength="7.4" lengthAdjust="spacingAndGlyphs">55</text>
<text x="636.5" y="458" textLength="7.4" lengthAdjust="spacingAndGlyphs">56</text>
</g>
<g class="yl" text-anchor="middle">
<text x="51" y="71" textLength="6.5" lengthAdjust="spacingAndGlyphs">5</text>
<text x="51" y="147" textLength="6.5" lengthAdjust="spacingAndGlyphs">4</text>
<text x="51" y="223" textLength="6.5" lengthAdjust="spacingAndGlyphs">3</text>
<text x="51" y="299" textLength="6.5" lengthAdjust="spacingAndGlyphs">2</text>
<text x="51" y="376" textLength="6.5" lengthAdjust="spacingAndGlyphs">1</text>
<text x="51" y="452" textLength="6.5" lengthAdjust="spacingAndGlyphs">0</text>
</g>
<g class="ax">
<text x="260" y="496.6" textLength="47.0" lengthAdjust="spacingAndGlyphs">Flight</text>
<text x="318.6" y="496.6" textLength="42.8" lengthAdjust="spacingAndGlyphs">track</text>
<text x="373.4" y="496.6" textLength="66.6" lengthAdjust="spacingAndGlyphs">number</text>
</g>
<g class="t">
<text x="38" y="19.8" textLength="48.50" lengthAdjust="spacingAndGlyphs">Expected</text>
<text x="93.9" y="19.8" textLength="43.90" lengthAdjust="spacingAndGlyphs">forecast</text>
<text x="144.2" y="19.8" textLength="26.40" lengthAdjust="spacingAndGlyphs">error</text>
<text x="177" y="19.8" textLength="50.00" lengthAdjust="spacingAndGlyphs">reduction</text>
<text x="234.3" y="19.8" textLength="8.40" lengthAdjust="spacingAndGlyphs">in</text>
<text x="250.4" y="19.8" textLength="58.70" lengthAdjust="spacingAndGlyphs">verification</text>
<text x="316.1" y="19.8" textLength="32.80" lengthAdjust="spacingAndGlyphs">region</text>
<text x="356" y="19.8" textLength="22.00" lengthAdjust="spacingAndGlyphs">(VR)</text>
<text x="386.3" y="19.8" textLength="18.70" lengthAdjust="spacingAndGlyphs">due</text>
<text x="412.1" y="19.8" textLength="10.20" lengthAdjust="spacingAndGlyphs">to</text>
<text x="429.4" y="19.8" textLength="44.50" lengthAdjust="spacingAndGlyphs">adaptive</text>
<text x="480.3" y="19.8" textLength="69.00" lengthAdjust="spacingAndGlyphs">observations</text>
<text x="555.1" y="19.8" textLength="28.90" lengthAdjust="spacingAndGlyphs">along</text>
<text x="591.7" y="19.8" textLength="26.90" lengthAdjust="spacingAndGlyphs">flight</text>
<text x="624.9" y="19.8" textLength="36.00" lengthAdjust="spacingAndGlyphs">tracks.</text>
<text x="48" y="35.8" textLength="17.20" lengthAdjust="spacingAndGlyphs">VR:</text>
<text x="72.7" y="35.8" textLength="24.40" lengthAdjust="spacingAndGlyphs">30N,</text>
<text x="104.8" y="35.8" textLength="33.00" lengthAdjust="spacingAndGlyphs">-90W,</text>
<text x="144.2" y="35.8" textLength="27.70" lengthAdjust="spacingAndGlyphs">Verif.</text>
<text x="180.2" y="35.8" textLength="22.60" lengthAdjust="spacingAndGlyphs">time</text>
<text x="209.2" y="35.8" textLength="69.30" lengthAdjust="spacingAndGlyphs">2010020500</text>
<text x="285.3" y="35.8" textLength="23.80" lengthAdjust="spacingAndGlyphs">Obs.</text>
<text x="316.1" y="35.8" textLength="26.40" lengthAdjust="spacingAndGlyphs">time:</text>
<text x="349.6" y="35.8" textLength="68.90" lengthAdjust="spacingAndGlyphs">2010020400</text>
<text x="426.2" y="35.8" textLength="16.10" lengthAdjust="spacingAndGlyphs">(VR</text>
<text x="450.1" y="35.8" textLength="36.00" lengthAdjust="spacingAndGlyphs">radius:</text>
<text x="494.5" y="35.8" textLength="47.70" lengthAdjust="spacingAndGlyphs">1000km)</text>
<text x="555.1" y="35.8" textLength="27.60" lengthAdjust="spacingAndGlyphs">Verif.</text>
<text x="589.1" y="35.8" textLength="23.10" lengthAdjust="spacingAndGlyphs">var.:</text>
<text x="619.8" y="35.8" textLength="25.00" lengthAdjust="spacingAndGlyphs">u,v,T</text>
<text x="27" y="51.7" textLength="52.80" lengthAdjust="spacingAndGlyphs">NCEP/UM</text>
<text x="86.2" y="51.7" textLength="24.60" lengthAdjust="spacingAndGlyphs">ETKF</text>
<text x="117.9" y="51.7" textLength="32.10" lengthAdjust="spacingAndGlyphs">based</text>
<text x="157" y="51.7" textLength="11.60" lengthAdjust="spacingAndGlyphs">on</text>
<text x="178.3" y="51.7" textLength="72.10" lengthAdjust="spacingAndGlyphs">177-member</text>
<text x="257.5" y="51.7" textLength="68.90" lengthAdjust="spacingAndGlyphs">2010013000</text>
<text x="334.1" y="51.7" textLength="106.90" lengthAdjust="spacingAndGlyphs">NCEP+ECMWF+CMC</text>
<text x="447.6" y="51.7" textLength="54.00" lengthAdjust="spacingAndGlyphs">ensemble.</text>
<text x="509.3" y="51.7" textLength="23.20" lengthAdjust="spacingAndGlyphs">Best</text>
<text x="539" y="51.7" textLength="27.00" lengthAdjust="spacingAndGlyphs">flight</text>
<text x="573.1" y="51.7" textLength="35.90" lengthAdjust="spacingAndGlyphs">tracks:</text>
<text x="635.8" y="51.7" textLength="13.50" lengthAdjust="spacingAndGlyphs" style="fill:#fa3c3c;stroke:#fa3c3c;stroke-width:0.3px">37</text>
<text x="654.5" y="51.7" textLength="14.10" lengthAdjust="spacingAndGlyphs" style="fill:#1e3cff;stroke:#1e3cff;stroke-width:0.3px">46</text>
<text x="674.4" y="51.7" textLength="10.90" lengthAdjust="spacingAndGlyphs" style="fill:#787878;stroke:#787878;stroke-width:0.3px">21</text>
</g>
</svg></body></html>
